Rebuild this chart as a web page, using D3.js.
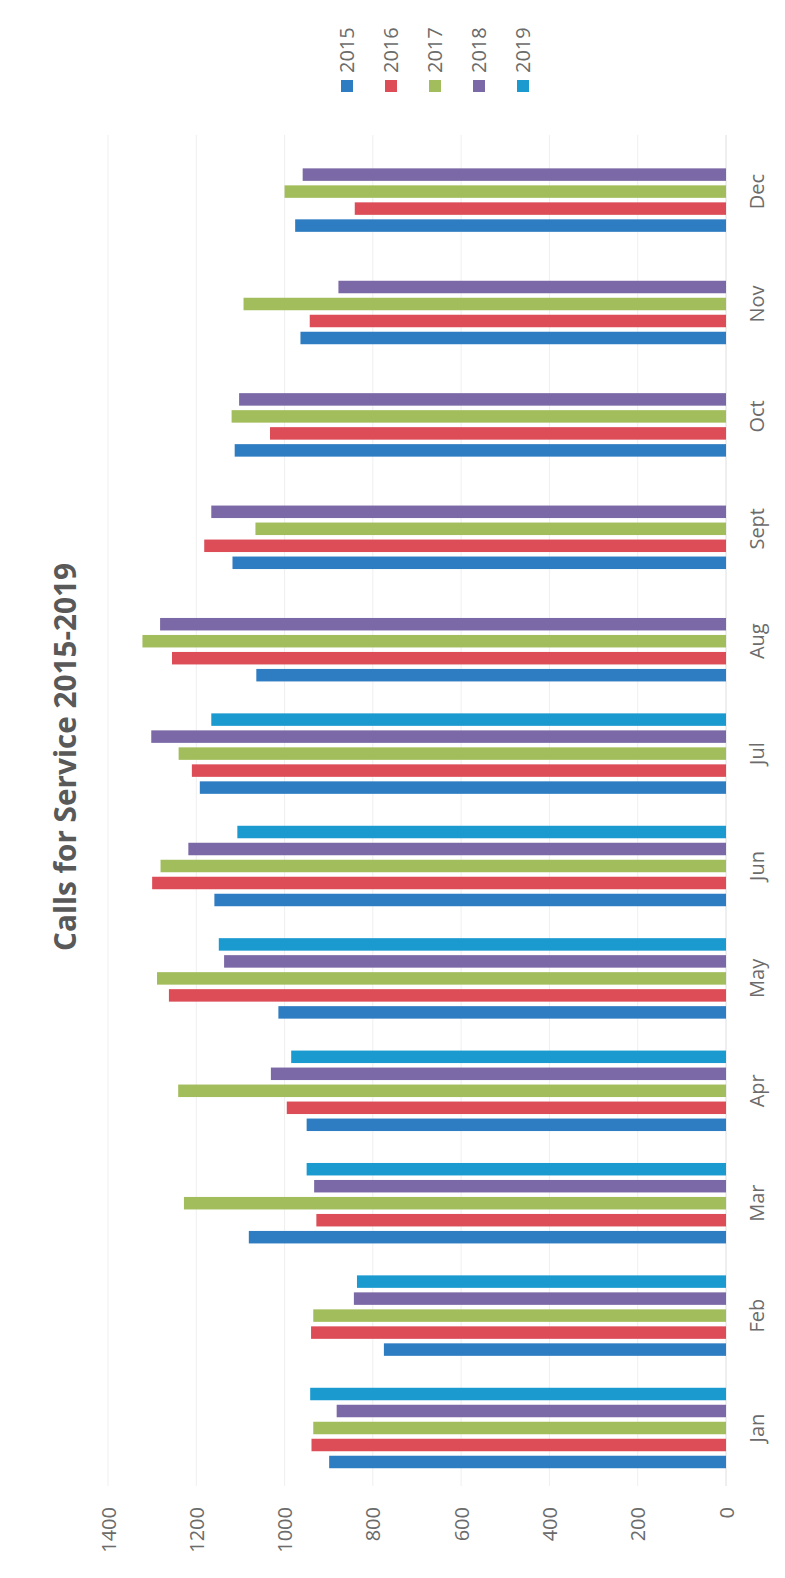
<!DOCTYPE html>
<html>
<head>
<meta charset="utf-8">
<script src="https://cdn.jsdelivr.net/npm/d3@7"></script>
<style>
  html, body { margin: 0; padding: 0; background: #ffffff; }
  svg { display: block; }
  text { font-family: "Open Sans", "Liberation Sans", sans-serif; }
</style>
</head>
<body>
<svg id="chart" width="785" height="1578"></svg>
<script>
const months = ["Jan","Feb","Mar","Apr","May","Jun","Jul","Aug","Sept","Oct","Nov","Dec"];
const years = ["2015","2016","2017","2018","2019"];
const v2015 = [899, 775, 1081, 950, 1014, 1159, 1192, 1064, 1118, 1113, 964, 976];
const v2016 = [939, 940, 928, 995, 1262, 1300, 1210, 1255, 1182, 1033, 943, 841];
const v2017 = [935, 935, 1228, 1241, 1289, 1281, 1240, 1322, 1066, 1120, 1093, 1000];
const v2018 = [882, 843, 933, 1031, 1137, 1218, 1302, 1282, 1166, 1103, 878, 959];
const v2019 = [942, 836, 950, 985, 1149, 1107, 1166, null, null, null, null, null];
const valueTicks = [0, 200, 400, 600, 800, 1000, 1200, 1400];
const colors = ["#2e7cc2", "#dc4d57", "#a2bd5b", "#7b68a6", "#1b9ad0"];
const title = "Calls for Service 2015-2019";

const series = [v2015, v2016, v2017, v2018, v2019];

const svg = d3.select("#chart");

// value scale runs right-to-left (chart is rotated)
const x = d3.scaleLinear().domain([0, 1400]).range([726, 108]);
// month bands run bottom-to-top
const y0 = d3.scaleBand().domain(months).range([1484.2, 135.4])
  .paddingInner(0.244).paddingOuter(0.122);
const y1 = d3.scaleBand().domain(years).range([y0.bandwidth(), 0])
  .paddingInner(0.265).paddingOuter(0.1325);
const color = d3.scaleOrdinal().domain(years).range(colors);

// gridlines
svg.append("g").selectAll("line").data(valueTicks.filter(d => d > 0)).join("line")
  .attr("x1", d => x(d)).attr("x2", d => x(d))
  .attr("y1", 135).attr("y2", 1486)
  .attr("stroke", "#efefef").attr("stroke-width", 1);

// baseline
svg.append("line").attr("x1", x(0)).attr("x2", x(0)).attr("y1", 135).attr("y2", 1486)
  .attr("stroke", "#dedede").attr("stroke-width", 1);

// bars
const rows = [];
months.forEach((m, i) => {
  years.forEach((yr, j) => {
    const v = series[j][i];
    if (v != null) rows.push({ month: m, year: yr, value: v });
  });
});
svg.append("g").selectAll("rect").data(rows).join("rect")
  .attr("x", d => x(d.value))
  .attr("width", d => x(0) - x(d.value))
  .attr("y", d => y0(d.month) + y1(d.year))
  .attr("height", y1.bandwidth())
  .attr("fill", d => color(d.year));

// value axis (tick labels rotated)
const xAxis = svg.append("g").attr("transform", "translate(0,1507)")
  .call(d3.axisBottom(x).tickValues(valueTicks).tickSize(0).tickFormat(d3.format("d")));
xAxis.select(".domain").remove();
xAxis.selectAll("text")
  .attr("x", 0).attr("y", 0).attr("dy", "0.35em")
  .attr("transform", "rotate(-90)")
  .attr("text-anchor", "end")
  .attr("fill", "#6b6b6b")
  .style("font-size", "20px")
  .style("font-family", "'Open Sans', sans-serif");

// month axis
const mAxis = svg.append("g").attr("transform", "translate(757,0)")
  .call(d3.axisRight(y0).tickSize(0));
mAxis.select(".domain").remove();
mAxis.selectAll("text")
  .attr("x", 0).attr("y", 0).attr("dy", "0.35em")
  .attr("transform", "rotate(-90)")
  .attr("text-anchor", "middle")
  .attr("fill", "#6b6b6b")
  .style("font-size", "20px")
  .style("font-family", "'Open Sans', sans-serif");

// legend
const legX = d3.scalePoint().domain(years).range([347, 523]);
const leg = svg.append("g").selectAll("g").data(years).join("g")
  .attr("transform", d => `translate(${legX(d)},0)`);
leg.append("rect").attr("x", -6).attr("y", 80).attr("width", 12).attr("height", 12)
  .attr("fill", d => color(d));
leg.append("text")
  .attr("transform", "translate(0,73) rotate(-90)")
  .attr("dy", "0.35em")
  .attr("text-anchor", "start")
  .attr("fill", "#6b6b6b")
  .style("font-size", "20px")
  .text(d => d);

// title
const t = svg.append("text")
  .attr("transform", "translate(66,757) rotate(-90)")
  .attr("dy", "0.35em")
  .attr("text-anchor", "middle")
  .attr("fill", "#595959")
  .style("font-weight", "bold")
  .style("font-size", "26px")
  .text(title);
const len = t.node().getComputedTextLength();
if (len > 0) t.style("font-size", (26 * 388 / len).toFixed(2) + "px");
</script>
</body>
</html>
